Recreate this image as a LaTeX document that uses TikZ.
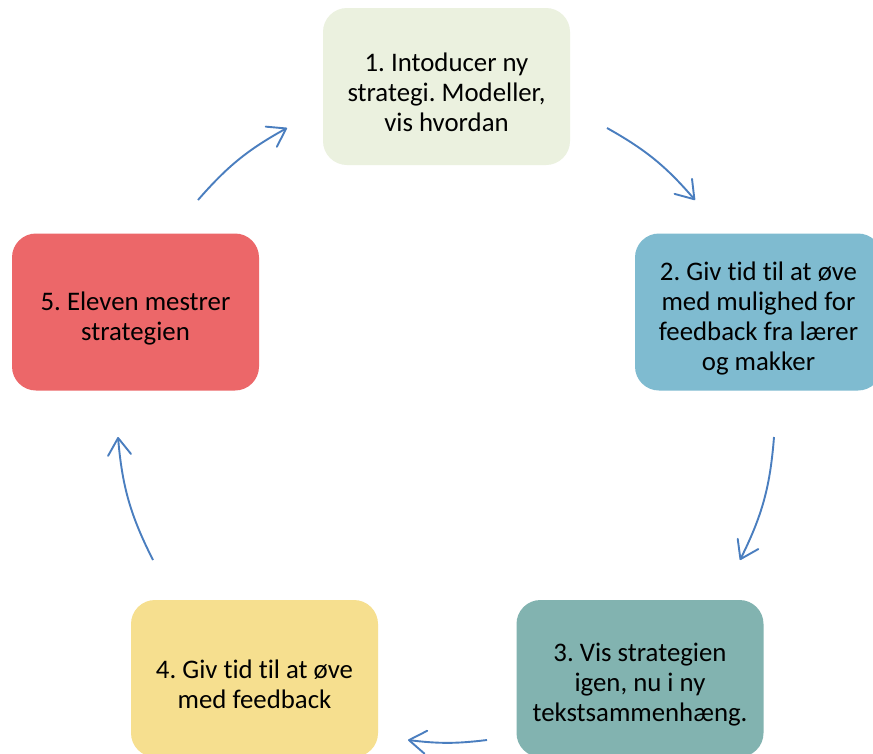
\documentclass[tikz,border=0pt]{standalone}
\usepackage{fontspec}
\setmainfont[Ligatures={NoCommon}]{Carlito}
\usetikzlibrary{arrows.meta}
\definecolor{cone}{HTML}{EBF1DF}
\definecolor{ctwo}{HTML}{7FBBD0}
\definecolor{cthree}{HTML}{82B3B0}
\definecolor{cfour}{HTML}{F6DF8F}
\definecolor{cfive}{HTML}{EC6769}
\definecolor{arrowc}{HTML}{4A7EBF}
\frenchspacing
\begin{document}
\begin{tikzpicture}[x=1pt,y=-1pt,
  box/.style={rounded corners=24pt, minimum width=247pt, minimum height=157pt, inner sep=0pt},
  boxtext/.style={align=center, font=\fontsize{26.8}{30}\selectfont, inner sep=0pt, text=black},
  arr/.style={draw=arrowc, line width=1.9pt,
    -{Straight Barb[length=17pt,width=23pt,line cap=round,line join=round]}}]
\clip (0,0) rectangle (873,753);
\fill[white] (0,0) rectangle (873,753);
\node[box, fill=cone]   (b1) at (446.5,86.5) {};
\node[box, fill=ctwo]   (b2) at (758.5,312)  {};
\node[box, fill=cthree] (b3) at (640,678.5)  {};
\node[box, fill=cfour]  (b4) at (254.5,678.5){};
\node[box, fill=cfive]  (b5) at (135.5,312)  {};
\node[boxtext] (t1) at ([yshift=-6pt]b1.center) {1. Intoducer ny\\strategi. Modeller,\\vis hvordan};
\node[boxtext] (t2) at ([yshift=-6pt]b2.center) {2. Giv tid til at øve\\med mulighed for\\feedback fra lærer\\og makker};
\node[boxtext] (t3) at ([yshift=-6pt]b3.center) {3. Vis strategien\\igen, nu i ny\\tekstsammenhæng.};
\node[boxtext] (t4) at ([yshift=-6pt]b4.center) {4. Giv tid til at øve\\med feedback};
\node[boxtext] (t5) at ([yshift=-6pt]b5.center) {5. Eleven mestrer\\strategien};
\coordinate (a1s) at (607,128); \coordinate (a1e) at (695,200);
\coordinate (a2s) at (774,437); \coordinate (a2e) at (740,560);
\coordinate (a3s) at (487,740); \coordinate (a3e) at (408,740);
\coordinate (a4s) at (153,560); \coordinate (a4e) at (118,437);
\coordinate (a5s) at (198,200); \coordinate (a5e) at (287,128);
\draw[arr] (a1s) to[bend left=10] (a1e);
\draw[arr] (a2s) to[bend left=11] (a2e);
\draw[arr] (a3s) to[bend left=7] (a3e);
\draw[arr] (a4s) to[bend left=11] (a4e);
\draw[arr] (a5s) to[bend left=10] (a5e);
\end{tikzpicture}
\end{document}
